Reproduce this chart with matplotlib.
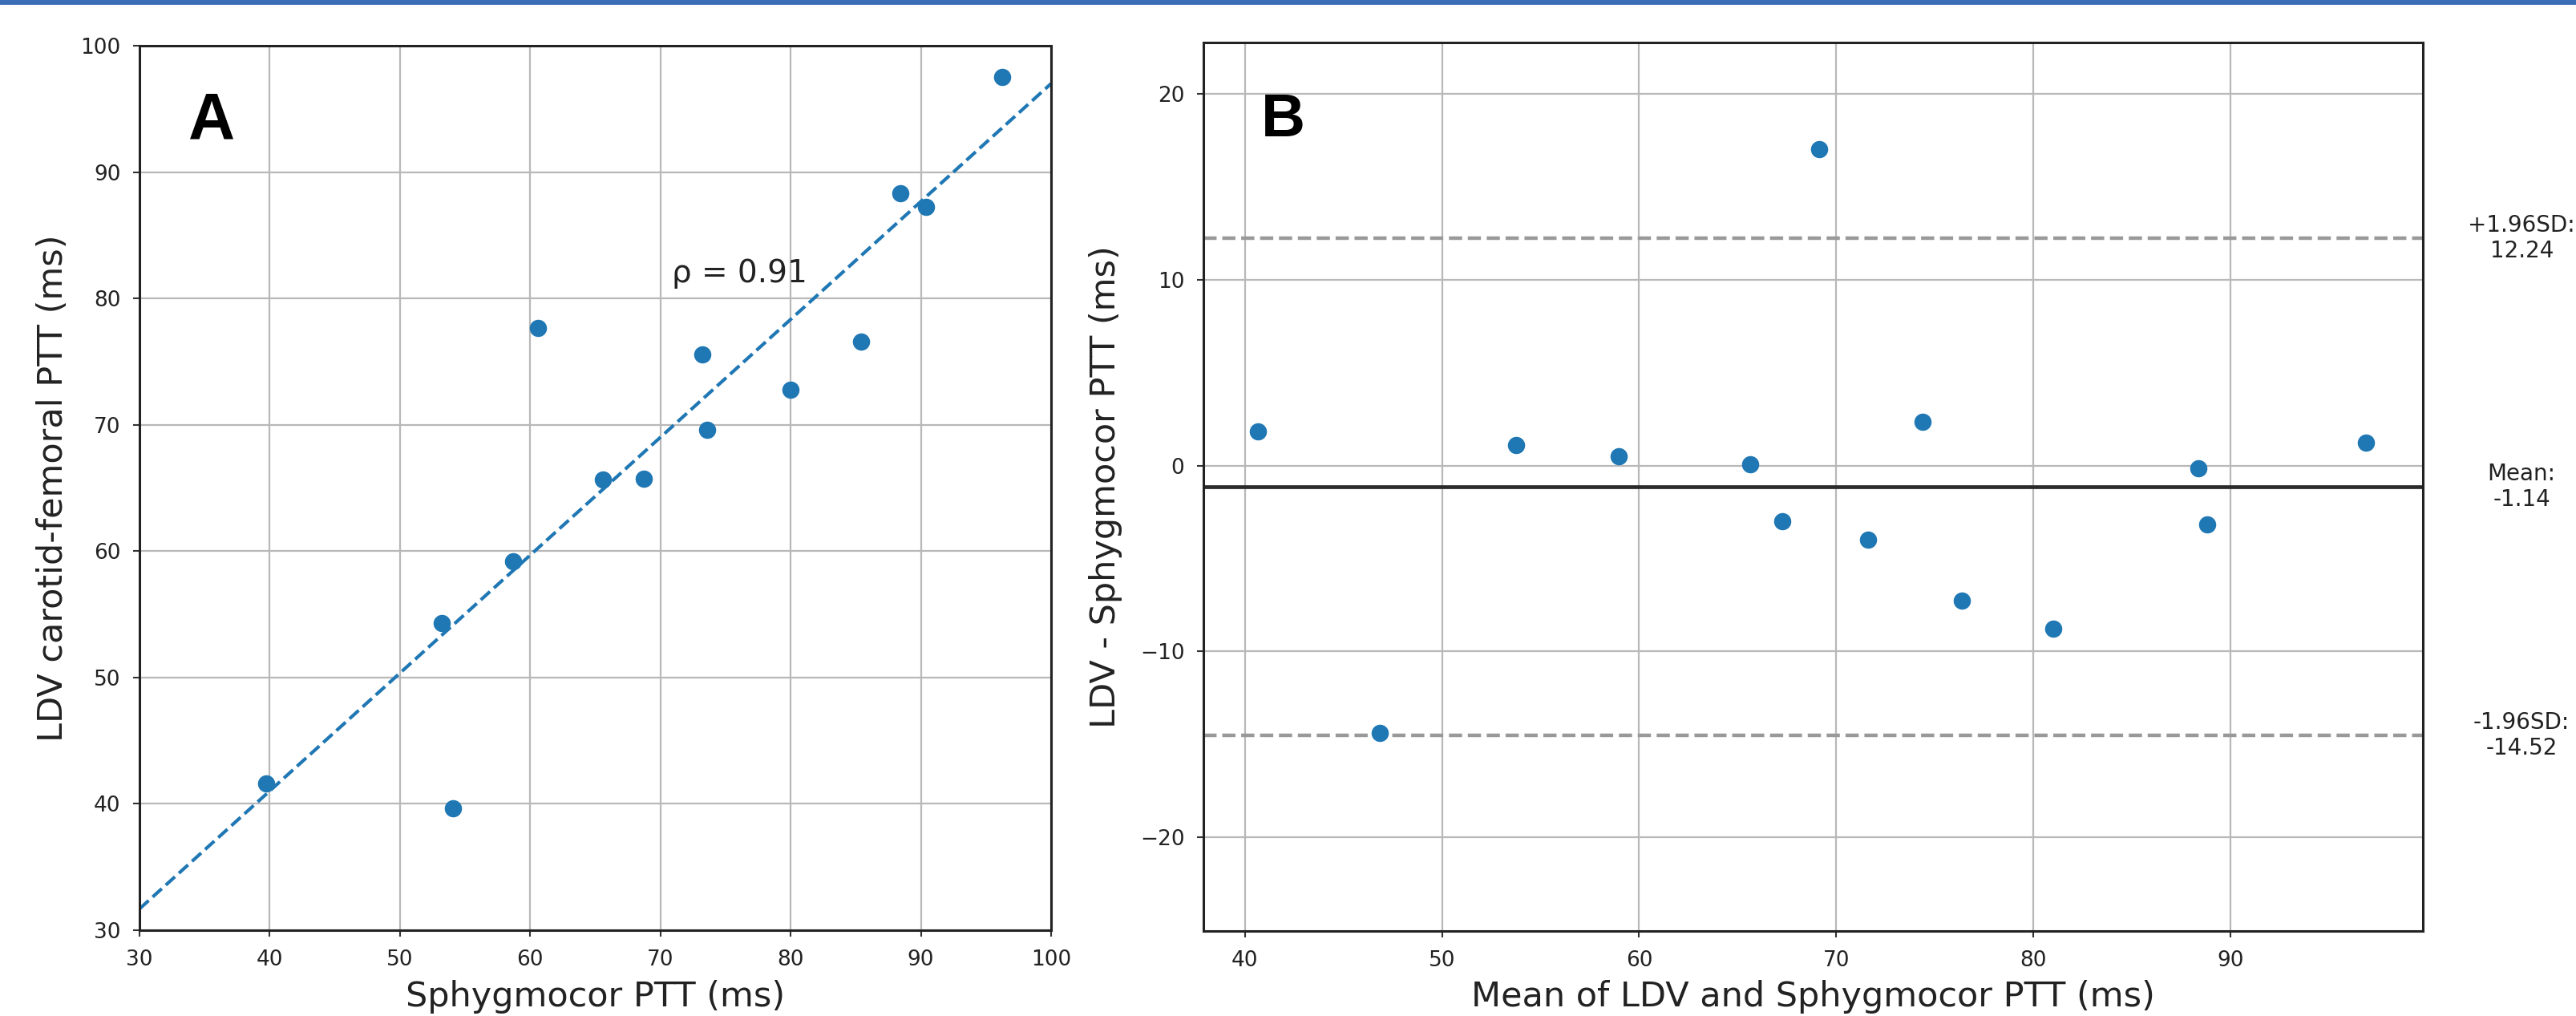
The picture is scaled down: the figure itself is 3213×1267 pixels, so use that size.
import matplotlib
matplotlib.use("Agg")
import matplotlib.pyplot as plt
from matplotlib.patches import Rectangle
import numpy as np

# ---- data ----
sphygmocor_ptt = [39.75, 53.2, 54.05, 58.7, 60.6, 65.6, 68.75, 73.2, 73.6, 80.0, 85.4, 88.45, 90.4, 96.25]
ldv_ptt = [41.6, 54.3, 39.65, 59.2, 77.65, 65.65, 65.75, 75.55, 69.6, 72.75, 76.6, 88.3, 87.25, 97.5]
fit_slope = 0.933
fit_intercept = 3.7
rho_text = "\u03c1 = 0.91"

mean_diff = -1.14
upper_loa = 12.24
lower_loa = -14.52
loa_labels = ["+1.96SD:\n12.24", "Mean:\n-1.14", "-1.96SD:\n-14.52"]

ticks_a = [30, 40, 50, 60, 70, 80, 90, 100]
xticks_b = [40, 50, 60, 70, 80, 90]
yticks_b = [-20, -10, 0, 10, 20]

sph = np.array(sphygmocor_ptt)
ldv = np.array(ldv_ptt)
means = (sph + ldv) / 2.0
diffs = ldv - sph

plt.rcParams['font.family'] = ['DejaVu Sans']

W, H = 3213, 1267
fig = plt.figure(figsize=(W / 100, H / 100), dpi=100)
fig.patch.set_facecolor('white')

# top blue bar
fig.patches.append(Rectangle((0, 1 - 6 / H), 1, 6 / H, transform=fig.transFigure,
                             facecolor='#3a6db5', edgecolor='none'))

axA = fig.add_axes([174 / W, (H - 1160) / H, (1311 - 174) / W, (1160 - 57) / H])
axB = fig.add_axes([1501 / W, (H - 1161) / H, (3022 - 1501) / W, (1161 - 53) / H])

dot_color = '#1f77b4'
spine_color = '#222222'

for ax in (axA, axB):
    ax.set_axisbelow(True)
    ax.grid(True, color='#b8b8b8', linewidth=1.6)
    for s in ax.spines.values():
        s.set_color(spine_color)
        s.set_linewidth(2.2)
    ax.tick_params(axis='both', labelsize=19, length=6, width=1.5, pad=11,
                   colors='#333333', labelcolor='#222222')

# ---- Panel A ----
axA.scatter(sph, ldv, s=240, color=dot_color, zorder=3, linewidths=0)
axA.axline((0, fit_intercept), slope=fit_slope, color=dot_color, linestyle='--',
           linewidth=3.0, zorder=2)
axA.set_xlim(30, 100)
axA.set_ylim(30, 100)
axA.set_xticks(ticks_a)
axA.set_yticks(ticks_a)
axA.set_xlabel("Sphygmocor PTT (ms)", fontsize=31, color='#222222')
axA.set_ylabel("LDV carotid-femoral PTT (ms)", fontsize=31, color='#222222')
axA.xaxis.set_label_coords(0.5, -0.056)
axA.yaxis.set_label_coords(-0.0765, 0.5)
axA.text(70.9, 81.3, rho_text, fontsize=28, color='#222222', ha='left', va='baseline')
axA.text(0.054, 0.895, "A", transform=axA.transAxes, fontsize=58, fontweight='bold',
         family=['Liberation Sans', 'DejaVu Sans'], ha='left', va='baseline', color='black')

# ---- Panel B ----
axB.scatter(means, diffs, s=240, color=dot_color, zorder=3, linewidths=0)
axB.axhline(mean_diff, color='#2a2a2a', linewidth=3.4, zorder=2)
axB.axhline(upper_loa, color='#999999', linewidth=3.2, linestyle='--', zorder=2)
axB.axhline(lower_loa, color='#999999', linewidth=3.2, linestyle='--', zorder=2)
axB.set_xlim(37.9, 99.75)
axB.set_ylim(-25.05, 22.77)
axB.set_xticks(xticks_b)
axB.set_yticks(yticks_b)
axB.set_xlabel("Mean of LDV and Sphygmocor PTT (ms)", fontsize=31, color='#222222')
axB.set_ylabel("LDV - Sphygmocor PTT (ms)", fontsize=31, color='#222222')
axB.xaxis.set_label_coords(0.5, -0.055)
axB.yaxis.set_label_coords(-0.0664, 0.5)
axB.text(0.047, 0.894, "B", transform=axB.transAxes, fontsize=55, fontweight='bold',
         family=['Liberation Sans', 'DejaVu Sans'], ha='left', va='baseline', color='black')

for val, lab in zip([upper_loa, mean_diff, lower_loa], loa_labels):
    axB.annotate(lab, xy=(1.081, val), xycoords=('axes fraction', 'data'),
                 ha='center', va='center', fontsize=20, color='#222222',
                 linespacing=1.15, annotation_clip=False)

fig.savefig("out.png", dpi=100, facecolor='white')
